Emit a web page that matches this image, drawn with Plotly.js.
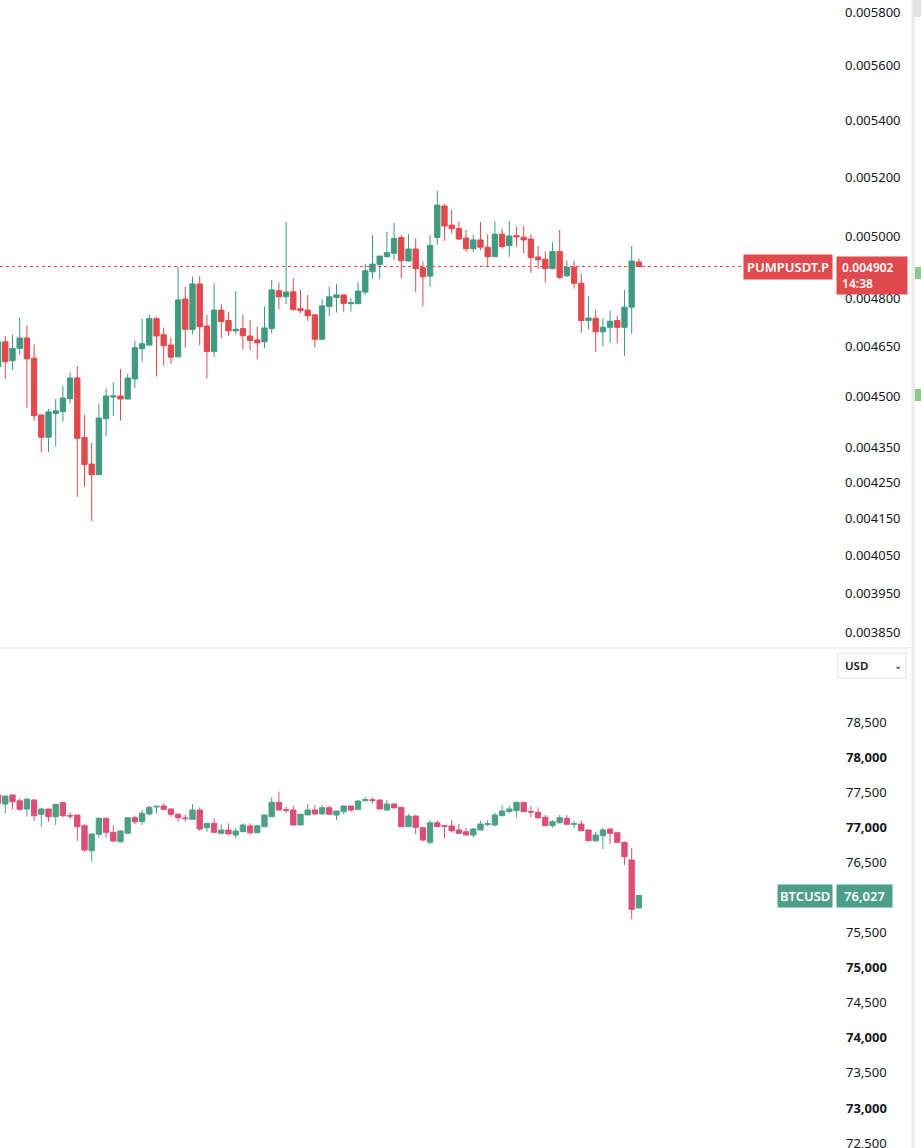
<!DOCTYPE html>
<html>
<head>
<meta charset="utf-8">
<script src="https://cdn.plot.ly/plotly-3.0.1.min.js"></script>
<style>html,body{margin:0;padding:0;background:#fff;}#chart{width:921px;height:1148px;}</style>
</head>
<body>
<div id="chart"></div>
<script>
// ---- PUMPUSDT.P candles (top panel) ----
const pumpOpen = [0.004588,0.004664,0.004606,0.004644,0.004676,0.004614,0.004444,0.004379,0.004448,0.004454,
0.004492,0.004554,0.004378,0.004302,0.004272,0.004433,0.004497,0.004500,0.004491,0.004551,
0.004643,0.004654,0.004736,0.004686,0.004654,0.004618,0.004798,0.004702,0.004846,0.004713,
0.004634,0.004763,0.004730,0.004698,0.004705,0.004682,0.004670,0.004664,0.004705,0.004824,
0.004805,0.004821,0.004767,0.004763,0.004748,0.004672,0.004774,0.004803,0.004811,0.004783,
0.004783,0.004820,0.004885,0.004909,0.004934,0.004945,0.004997,0.004920,0.004959,0.004898,
0.004871,0.004997,0.005102,0.005038,0.005027,0.004995,0.004960,0.004989,0.004965,0.004934,
0.005008,0.004970,0.005003,0.004998,0.004992,0.004933,0.004926,0.004895,0.004951,0.004872,
0.004900,0.004848,0.004730,0.004737,0.004695,0.004709,0.004730,0.004709,0.004772,0.004917];
const pumpHigh = [0.004685,0.004682,0.004686,0.004739,0.004714,0.004656,0.004444,0.004462,0.004491,0.004530,
0.004570,0.004590,0.004444,0.004363,0.004477,0.004522,0.004540,0.004581,0.004566,0.004668,
0.004736,0.004748,0.004742,0.004708,0.004677,0.004901,0.004837,0.004869,0.004871,0.004748,
0.004848,0.004781,0.004756,0.004823,0.004748,0.004732,0.004711,0.004774,0.004859,0.004850,
0.005048,0.004864,0.004827,0.004811,0.004750,0.004797,0.004837,0.004845,0.004811,0.004800,
0.004853,0.004910,0.005005,0.004936,0.005016,0.005046,0.005005,0.005008,0.004994,0.004918,
0.005005,0.005154,0.005109,0.005089,0.005049,0.005022,0.005005,0.005049,0.005008,0.005052,
0.005027,0.005052,0.005033,0.005035,0.005008,0.004969,0.004950,0.004982,0.005022,0.004921,
0.004921,0.004880,0.004807,0.004763,0.004737,0.004761,0.004744,0.004827,0.004969,0.004929];
const pumpLow = [0.004572,0.004551,0.004578,0.004624,0.004465,0.004427,0.004335,0.004337,0.004352,0.004424,
0.004478,0.004210,0.004238,0.004143,0.004272,0.004383,0.004441,0.004427,0.004490,0.004524,
0.004602,0.004654,0.004558,0.004591,0.004596,0.004618,0.004646,0.004687,0.004654,0.004553,
0.004618,0.004675,0.004682,0.004687,0.004641,0.004639,0.004611,0.004644,0.004690,0.004765,
0.004782,0.004761,0.004753,0.004729,0.004647,0.004668,0.004744,0.004755,0.004758,0.004758,
0.004783,0.004811,0.004862,0.004862,0.004932,0.004923,0.004864,0.004918,0.004821,0.004774,
0.004837,0.004972,0.004986,0.005011,0.004989,0.004950,0.004950,0.004956,0.004902,0.004934,
0.004960,0.004934,0.004967,0.004945,0.004882,0.004895,0.004850,0.004895,0.004861,0.004869,
0.004831,0.004692,0.004703,0.004634,0.004651,0.004660,0.004660,0.004621,0.004688,0.004901];
const pumpClose = [0.004664,0.004603,0.004644,0.004676,0.004612,0.004442,0.004379,0.004453,0.004456,0.004494,
0.004554,0.004376,0.004301,0.004272,0.004435,0.004500,0.004500,0.004491,0.004554,0.004646,
0.004658,0.004736,0.004682,0.004652,0.004617,0.004795,0.004703,0.004846,0.004711,0.004634,
0.004763,0.004727,0.004698,0.004703,0.004683,0.004668,0.004661,0.004707,0.004827,0.004805,
0.004820,0.004765,0.004761,0.004745,0.004672,0.004776,0.004805,0.004811,0.004784,0.004786,
0.004823,0.004888,0.004910,0.004936,0.004947,0.004994,0.004921,0.004959,0.004895,0.004869,
0.004971,0.005105,0.005035,0.005026,0.004992,0.004960,0.004989,0.004965,0.004934,0.005008,
0.004967,0.005002,0.004999,0.004989,0.004931,0.004924,0.004895,0.004951,0.004867,0.004899,
0.004848,0.004730,0.004738,0.004695,0.004709,0.004728,0.004709,0.004772,0.004920,0.004902];

// ---- BTCUSD candles (bottom panel) ----
const btcOpen = [77460,77331,77460,77378,77260,77388,77185,77260,77150,77350,
77168,77175,77022,76666,76900,77128,76928,76794,76914,77136,
77079,77189,77289,77303,77260,77185,77132,77113,77246,76994,
77056,76914,76961,76890,76937,77018,76922,77008,77150,77356,
77250,77246,77032,77175,77246,77189,77279,77175,77222,77303,
77256,77378,77392,77388,77246,77331,77284,77008,77160,76994,
76786,77065,77022,77018,76961,76937,76890,76961,77040,77032,
77165,77222,77236,77356,77226,77213,77142,77022,77065,77128,
77042,77046,76961,76808,76880,76975,76922,76786,76533,75850];
const btcHigh = [77488,77445,77470,77413,77403,77403,77279,77260,77327,77364,
77213,77175,77042,76914,77142,77142,77022,76961,77142,77165,
77246,77307,77299,77341,77270,77199,77175,77331,77284,77056,
77128,77042,77056,76994,77056,77056,77032,77185,77427,77507,
77293,77307,77185,77331,77317,77317,77307,77232,77317,77303,
77388,77435,77427,77398,77388,77341,77284,77189,77175,76994,
77103,77103,77032,77103,77046,76994,76994,77089,77103,77207,
77317,77307,77356,77356,77303,77284,77175,77103,77175,77175,
77089,77103,76961,76937,76994,76994,76937,76794,76700,76027];
const btcLow = [77317,77199,77260,77236,77150,77093,77008,77079,77032,77142,
77118,76804,76652,76509,76851,76851,76786,76786,76914,77042,
77032,77165,77199,77246,77150,77079,77079,77113,76951,76937,
76914,76900,76900,76843,76937,76890,76922,77008,77150,77246,
77199,77032,77032,77175,77189,77189,77185,77103,77185,77222,
77256,77378,77341,77260,77232,77260,77008,77008,76900,76804,
76757,77008,76843,76922,76904,76890,76857,76961,77018,77008,
77165,77207,77142,77222,77142,77118,77022,76994,77056,77032,
76985,76951,76808,76794,76690,76761,76786,76462,75688,75850];
const btcClose = [77341,77445,77364,77256,77403,77165,77260,77150,77327,77165,
77160,77008,76676,76904,77128,76928,76804,76947,77136,77079,
77199,77284,77299,77256,77185,77136,77124,77246,76975,77056,
76928,76961,76904,76947,77032,76922,77022,77175,77356,77246,
77242,77032,77185,77246,77189,77279,77185,77232,77303,77246,
77374,77393,77384,77260,77331,77279,77008,77160,76999,76818,
77065,77008,77015,76951,76914,76890,76975,77046,77050,77175,
77232,77260,77356,77222,77218,77136,77022,77079,77136,77042,
77050,76951,76808,76890,76961,76914,76786,76580,75831,76027];

// ---- axis ticks (76,000 is hidden behind the last-price tag in the reference) ----
const pumpTickVals = [0.0058,0.0056,0.0054,0.0052,0.0050,0.0048,0.00465,0.0045,0.00435,0.00425,0.00415,0.00405,0.00395,0.00385];
const pumpTickText = ["0.005800","0.005600","0.005400","0.005200","0.005000","0.004800","0.004650","0.004500","0.004350","0.004250","0.004150","0.004050","0.003950","0.003850"];
const btcTickVals = [78500,78000,77500,77000,76500,75500,75000,74500,74000,73500,73000,72500];
const btcTickText = ["78,500","<b>78,000</b>","77,500","<b>77,000</b>","76,500","75,500","<b>75,000</b>","74,500","<b>74,000</b>","73,500","<b>73,000</b>","72,500"];

const pumpSymbol = "PUMPUSDT.P";
const btcSymbol = "BTCUSD";
const countdown = "14:38";

const W = 921, H = 1148, PLOT_R = 835;
const px = v => v / PLOT_R;          // pixel x -> paper x
const py = v => 1 - v / H;           // pixel y -> paper y
const split = py(648);

const UP1 = '#3f9a80', DN1 = '#e0494d';
const UP2 = '#4e9f88', DN2 = '#db4f76';

const idx = pumpOpen.map((_, i) => i);
const idx2 = btcOpen.map((_, i) => i);

const traces = [
  {type:'candlestick', x: idx, open: pumpOpen, high: pumpHigh, low: pumpLow, close: pumpClose,
   xaxis:'x', yaxis:'y', whiskerwidth:0, showlegend:false, hoverinfo:'skip',
   increasing:{line:{color:UP1, width:1}, fillcolor:UP1},
   decreasing:{line:{color:DN1, width:1}, fillcolor:DN1}},
  {type:'candlestick', x: idx2, open: btcOpen, high: btcHigh, low: btcLow, close: btcClose,
   xaxis:'x2', yaxis:'y2', whiskerwidth:0, showlegend:false, hoverinfo:'skip',
   increasing:{line:{color:UP2, width:1}, fillcolor:UP2},
   decreasing:{line:{color:DN2, width:1}, fillcolor:DN2}}
];

const lastPump = pumpClose[pumpClose.length - 1];
const lastBtc = btcClose[btcClose.length - 1];
const tickFont = {family:'Noto Sans, Open Sans, sans-serif', size:13, color:'#131722'};
const tagFont = {family:'Noto Sans, sans-serif', size:13, color:'#ffffff', weight:600};
const xr = [0.264, 116.24];

const layout = {
  width: W, height: H,
  margin: {l:0, r:W-PLOT_R, t:0, b:0, pad:0},
  paper_bgcolor:'#ffffff', plot_bgcolor:'#ffffff',
  showlegend:false, hovermode:false,
  boxgap:0.26, boxgroupgap:0,
  xaxis: {domain:[0,1], anchor:'y', range:xr, visible:false, showgrid:false, zeroline:false, rangeslider:{visible:false}, fixedrange:true},
  xaxis2:{domain:[0,1], anchor:'y2', range:xr, visible:false, showgrid:false, zeroline:false, rangeslider:{visible:false}, fixedrange:true},
  yaxis: {domain:[split,1], anchor:'x', side:'right', type:'log',
          range:[Math.log10(0.0038096), Math.log10(0.0058462)],
          tickmode:'array', tickvals:pumpTickVals, ticktext:pumpTickText,
          showgrid:false, zeroline:false, showline:false, ticks:'', ticklabelstandoff:9,
          ticklabeloverflow:'allow', tickfont:tickFont, fixedrange:true},
  yaxis2:{domain:[0,split], anchor:'x2', side:'right',
          range:[72429, 79555],
          tickmode:'array', tickvals:btcTickVals, ticktext:btcTickText,
          showgrid:false, zeroline:false, showline:false, ticks:'', ticklabelstandoff:10,
          ticklabeloverflow:'allow', tickfont:tickFont, fixedrange:true},
  shapes: [
    {type:'line', xref:'paper', yref:'y', x0:0, x1:px(749), y0:lastPump, y1:lastPump,
     line:{color:DN1, width:1, dash:'dot'}},
    {type:'line', xref:'paper', yref:'paper', x0:0, x1:px(912), y0:split, y1:split,
     line:{color:'#e0e3eb', width:1}},
    {type:'rect', xref:'paper', yref:'paper', x0:px(911.5), x1:px(915), y0:0, y1:1,
     fillcolor:'#ececec', line:{width:0}},
    {type:'rect', xref:'paper', yref:'paper', x0:px(913), x1:px(921), y0:py(17), y1:1,
     fillcolor:'#e3e3e3', line:{width:0}},
    {type:'rect', xref:'paper', yref:'paper', x0:px(915), x1:px(921), y0:py(279), y1:py(267),
     fillcolor:'#8cc98c', line:{width:0}},
    {type:'rect', xref:'paper', yref:'paper', x0:px(915), x1:px(921), y0:py(401), y1:py(389),
     fillcolor:'#8cc98c', line:{width:0}},
    {type:'rect', xref:'paper', yref:'paper', x0:px(838), x1:px(906), y0:py(678), y1:py(653),
     fillcolor:'#ffffff', line:{color:'#e0e3eb', width:1}}
  ],
  annotations: [
    {xref:'paper', yref:'y', x:px(833), y:Math.log10(lastPump), xanchor:'right', yanchor:'middle',
     text:pumpSymbol, showarrow:false, bgcolor:DN1, borderpad:3, font:tagFont},
    {xref:'paper', yref:'y', x:px(836), y:Math.log10(lastPump), xanchor:'left', yanchor:'top', yshift:10.5,
     text:'&nbsp;' + lastPump.toFixed(6) + '<br>&nbsp;' + countdown, align:'left', width:66, showarrow:false,
     bgcolor:DN1, borderpad:2, font:{family:'Noto Sans, sans-serif', size:12, color:'#ffffff', weight:600}},
    {xref:'paper', yref:'y2', x:px(833), y:lastBtc, xanchor:'right', yanchor:'middle',
     text:btcSymbol, showarrow:false, bgcolor:UP2, borderpad:2, font:tagFont},
    {xref:'paper', yref:'y2', x:px(836), y:lastBtc, xanchor:'left', yanchor:'middle',
     text:lastBtc.toLocaleString('en-US'), width:51, align:'center', showarrow:false,
     bgcolor:UP2, borderpad:2, font:tagFont},
    {xref:'paper', yref:'paper', x:px(843), y:py(665.5), xanchor:'left', yanchor:'middle',
     text:'USD', showarrow:false,
     font:{family:'Noto Sans, sans-serif', size:11.5, color:'#131722', weight:600}},
    {xref:'paper', yref:'paper', x:px(898), y:py(665), xanchor:'center', yanchor:'middle',
     text:'⌄', showarrow:false,
     font:{family:'DejaVu Sans, sans-serif', size:10, color:'#131722'}}
  ]
};

Plotly.newPlot('chart', traces, layout, {displayModeBar:false, staticPlot:true});
</script>
</body>
</html>
